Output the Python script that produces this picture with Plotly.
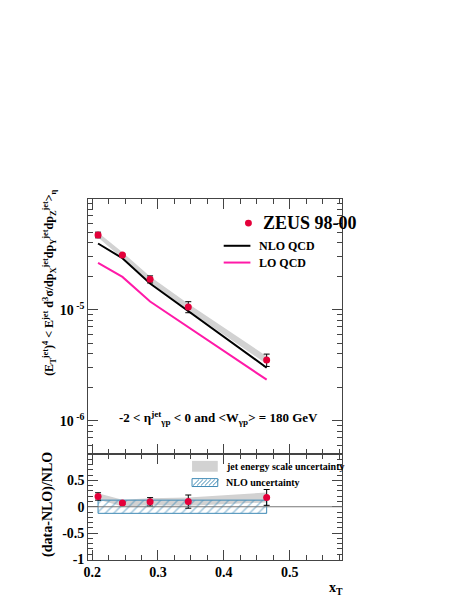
import plotly.graph_objects as go

# x_T bins and cross sections
xt = [0.209, 0.246, 0.288, 0.346, 0.465]
data = [4.72e-5, 3.11e-5, 1.88e-5, 1.06e-5, 3.53e-6]
nlo = [3.95e-5, 2.91e-5, 1.72e-5, 9.66e-6, 3.0e-6]
lo = [2.64e-5, 1.975e-5, 1.185e-5, 7.0e-6, 2.34e-6]
ratio_err = [0.07, 0.02, 0.08, 0.125, 0.15]      # stat. error on (data-NLO)/NLO
jes_rel = [0.05, 0.06, 0.06, 0.07, 0.08]         # jet energy scale, relative
nlo_unc = [0.125, 0.125, 0.125, 0.125, 0.125]    # NLO uncertainty band

W, H = 463, 599
OFF_X, OFF_Y = 10, 2  # where the page puts the figure
RED = "#e4003a"
GREY = "#d2d2d2"
HATCH = "#3f8ab5"
FONT = "Liberation Serif, Times New Roman, serif"


def px(x):
    return (x - OFF_X) / W


def py(y):
    return 1 - (y - OFF_Y) / H


err_top = [e * n for e, n in zip(ratio_err, nlo)]
jes_lo = [d * (1 - j) for d, j in zip(data, jes_rel)]
jes_hi = [d * (1 + j) for d, j in zip(data, jes_rel)]
ratio = [d / n - 1 for d, n in zip(data, nlo)]
r_jes_lo = [a / n - 1 for a, n in zip(jes_lo, nlo)]
r_jes_hi = [a / n - 1 for a, n in zip(jes_hi, nlo)]

fig = go.Figure()

# ---- upper panel
fig.add_trace(go.Scatter(x=xt, y=jes_lo, mode="lines", line=dict(width=0),
                         showlegend=False, hoverinfo="skip", xaxis="x", yaxis="y"))
fig.add_trace(go.Scatter(x=xt, y=jes_hi, mode="lines", line=dict(width=0),
                         fill="tonexty", fillcolor=GREY, showlegend=False,
                         hoverinfo="skip", xaxis="x", yaxis="y"))
fig.add_trace(go.Scatter(x=xt, y=nlo, mode="lines", line=dict(color="black", width=2),
                         showlegend=False, xaxis="x", yaxis="y"))
fig.add_trace(go.Scatter(x=xt, y=lo, mode="lines", line=dict(color="#ff1aa8", width=2),
                         showlegend=False, xaxis="x", yaxis="y"))
fig.add_trace(go.Scatter(x=xt, y=data, mode="markers",
                         marker=dict(color=RED, size=7),
                         error_y=dict(type="data", array=err_top, color="black",
                                      thickness=1, width=3),
                         showlegend=False, xaxis="x", yaxis="y"))

# ---- lower panel
fig.add_trace(go.Scatter(x=xt, y=r_jes_lo, mode="lines", line=dict(width=0),
                         showlegend=False, hoverinfo="skip", xaxis="x2", yaxis="y2"))
fig.add_trace(go.Scatter(x=xt, y=r_jes_hi, mode="lines", line=dict(width=0),
                         fill="tonexty", fillcolor=GREY, showlegend=False,
                         hoverinfo="skip", xaxis="x2", yaxis="y2"))
box_x = xt + xt[::-1] + [xt[0]]
box_y = [-u for u in nlo_unc] + nlo_unc[::-1] + [-nlo_unc[0]]
fig.add_trace(go.Scatter(x=box_x, y=box_y, mode="lines", fill="toself",
                         fillcolor="rgba(255,255,255,0)",
                         fillpattern=dict(shape="/", fgcolor=HATCH, size=6, solidity=0.25),
                         line=dict(color=HATCH, width=1), showlegend=False,
                         xaxis="x2", yaxis="y2"))
fig.add_trace(go.Scatter(x=xt, y=ratio, mode="markers",
                         marker=dict(color=RED, size=7),
                         error_y=dict(type="data", array=ratio_err, color="black",
                                      thickness=1, width=3),
                         showlegend=False, xaxis="x2", yaxis="y2"))

axis_common = dict(showline=True, linecolor="#444", linewidth=1, mirror="allticks",
                   ticks="inside", tickcolor="#444", showgrid=False, zeroline=False,
                   tickfont=dict(family=FONT, size=14, color="black", weight="bold"))

minor_log = [m * 10 ** e for e in (-7, -6, -5) for m in range(2, 10)]
minor_log = [v for v in minor_log if 10 ** -6.3 <= v <= 10 ** -4.006]

fig.update_layout(
    width=W, height=H,
    margin=dict(l=0, r=0, t=0, b=0),
    paper_bgcolor="white", plot_bgcolor="white",
    showlegend=False,
    xaxis=dict(domain=[px(86), px(343)], anchor="y", range=[0.194, 0.58],
               matches="x2", showticklabels=False, dtick=0.1, ticklen=10,
               minor=dict(ticks="inside", dtick=0.025, ticklen=5, tickcolor="#444"),
               **axis_common),
    yaxis=dict(domain=[py(454), py(196)], anchor="x", type="log", range=[-6.3, -4.006],
               tickmode="array", tickvals=[1e-6, 1e-5],
               ticktext=["10<sup> -6</sup>", "10<sup> -5</sup>"], ticklen=10,
               minor=dict(ticks="inside", tickmode="array", tickvals=minor_log,
                          ticklen=5, tickcolor="#444"),
               **axis_common),
    xaxis2=dict(domain=[px(86), px(343)], anchor="y2", range=[0.194, 0.58],
                dtick=0.1, ticklen=10,
                minor=dict(ticks="inside", dtick=0.025, ticklen=5, tickcolor="#444"),
                **axis_common),
    yaxis2=dict(domain=[py(561), py(454)], anchor="x2", range=[-1, 1],
                tickvals=[-1, -0.5, 0, 0.5], ticktext=["-1", "-0.5", "0", "0.5"],
                ticklen=10,
                minor=dict(ticks="inside", dtick=0.1, ticklen=5, tickcolor="#444"),
                **axis_common),
)

# zero line in ratio panel
fig.add_shape(type="line", xref="x2 domain", yref="y2", x0=0, x1=1, y0=0, y1=0,
              line=dict(color="#777", width=1))

# legend for the upper panel
fig.add_shape(type="circle", xref="paper", yref="paper",
              x0=px(244.5), x1=px(251.5), y0=py(223.5), y1=py(216.5),
              fillcolor=RED, line=dict(width=0))
fig.add_shape(type="line", xref="paper", yref="paper",
              x0=px(223), x1=px(250), y0=py(243), y1=py(243),
              line=dict(color="black", width=2))
fig.add_shape(type="line", xref="paper", yref="paper",
              x0=px(223), x1=px(250), y0=py(260), y1=py(260),
              line=dict(color="#ff1aa8", width=2))

# legend for the ratio panel: grey box and hatched box
fig.add_shape(type="rect", xref="paper", yref="paper",
              x0=px(191), x1=px(217), y0=py(472), y1=py(461),
              fillcolor=GREY, line=dict(width=0))
fig.add_shape(type="rect", xref="paper", yref="paper",
              x0=px(191), x1=px(217), y0=py(487), y1=py(479),
              fillcolor="rgba(0,0,0,0)", line=dict(color=HATCH, width=1))
for hx in range(192, 214, 4):
    fig.add_shape(type="line", xref="paper", yref="paper",
                  x0=px(hx), x1=px(hx + 6), y0=py(486), y1=py(480),
                  line=dict(color=HATCH, width=1))

notes = [
    (px(261), py(220), "ZEUS 98-00", 18, "left", 0),
    (px(257), py(243), "NLO QCD", 12, "left", 0),
    (px(257), py(260), "LO QCD", 12, "left", 0),
    (px(223), py(467), "jet energy scale uncertainty", 10, "left", 0),
    (px(223), py(483), "NLO uncertainty", 10, "left", 0),
    (px(218), py(418),
     "-2 &lt; η<sup>jet</sup><sub>γp</sub> &lt; 0 and &lt;W<sub>γp</sub>&gt; = 180 GeV",
     13, "center", 0),
    (px(337), py(590), "x<sub>T</sub>", 14, "center", 0),
    (px(47), py(281),
     "(E<sub>T</sub><sup>jet</sup>)<sup>4</sup> &lt; E<sup>jet</sup> d<sup>3</sup>σ/"
     "dp<sub>X</sub><sup>jet</sup>dp<sub>Y</sub><sup>jet</sup>dp<sub>Z</sub><sup>jet</sup>"
     "&gt;<sub>η</sub>", 12, "center", -90),
    (px(46), py(505), "(data-NLO)/NLO", 14, "center", -90),
]
for x, y, text, size, anchor, angle in notes:
    fig.add_annotation(x=x, y=y, xref="paper", yref="paper", text=text,
                       showarrow=False, xanchor=anchor, yanchor="middle",
                       textangle=angle,
                       font=dict(family=FONT, size=size, color="black", weight="bold"))

fig.write_html("out.html")
